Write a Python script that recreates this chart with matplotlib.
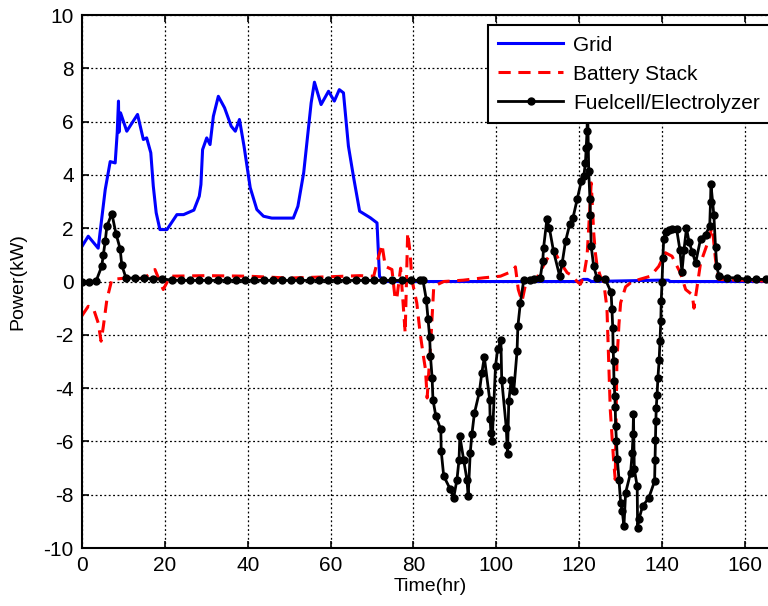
import matplotlib
matplotlib.use('Agg')
from matplotlib import pyplot as plt

plt.rcParams['font.family'] = ['Liberation Sans', 'DejaVu Sans']
plt.rcParams['axes.unicode_minus'] = False

# grid power draw (kW) vs time (hr)
grid_t = [0, 1.5, 3.9, 5.6, 6.8, 8.0, 8.5, 8.8, 8.9, 9.3, 10.8, 13.4, 14.8, 15.6, 16.6, 17.2,
          17.9, 18.8, 20.5, 22.9, 24.5, 27.0, 28.3, 28.7, 29.1, 30.1, 30.9, 31.7, 32.9, 34.4,
          36.0, 37.0, 38.0, 39.1, 40.6, 42.2, 43.8, 45.8, 51.0, 52.1, 53.5, 55.3, 56.1, 57.7,
          59.5, 60.9, 62.1, 63.1, 64.3, 65.5, 67.0, 69.6, 71.2, 71.8, 72.8, 120.0, 121.0,
          122.0, 123.0, 139.0, 141.5, 142.0, 168.0]
grid_p = [1.32, 1.7, 1.25, 3.45, 4.5, 4.45, 5.6, 6.77, 5.6, 6.33, 5.64, 6.27, 5.33, 5.39, 4.83, 3.58,
          2.58, 1.95, 1.95, 2.51, 2.51, 2.68, 3.2, 3.64, 4.95, 5.39, 5.14, 6.2, 6.95, 6.52,
          5.83, 5.64, 6.08, 5.08, 3.52, 2.7, 2.45, 2.38, 2.38, 2.82, 4.08, 6.7, 7.48, 6.64,
          7.14, 6.77, 7.2, 7.08, 5.08, 3.95, 2.64, 2.39, 2.2, 0.2, 0.0, 0.0, 0.08,
          0.08, 0.0, 0.05, 0.05, 0.0, 0.0]

# battery stack power
bat_t = [0, 1.5, 2.7, 3.9, 4.6, 5.15, 6.0, 7.2, 10.0, 15.0, 17.6, 19.6, 21.3, 30.0, 40.0, 50.0,
         60.0, 67.0, 70.4, 71.6, 72.4, 73.2, 74.8, 75.6, 76.0, 76.9, 77.6, 78.0, 78.6, 79.2,
         79.6, 80.8, 81.6, 82.4, 82.9, 83.3, 84.2, 84.9, 87.3, 92.0, 97.0, 101.0, 103.0,
         104.2, 104.6, 105.3, 106.2, 107.2, 109.8, 112.2, 113.8, 115.5, 117.1, 117.9, 119.5,
         120.3, 121.1, 121.9, 122.6, 122.9, 123.5, 123.9, 124.3, 125.1, 125.9, 126.7, 127.1,
         127.5, 128.3, 128.7, 129.1, 129.6, 130.0, 131.2, 132.8, 137.2, 139.2, 140.8, 142.4,
         144.4, 145.7, 147.3, 147.7, 149.3, 151.3, 152.1, 152.9, 153.7, 168.0]
bat_p = [-1.28, -0.93, -0.99, -1.55, -2.24, -1.68, -0.68, 0.08, 0.12, 0.12, 0.45, -0.3, 0.2, 0.22, 0.2, 0.13,
         0.18, 0.22, 0.2, 0.95, 1.39, 0.57, 0.45, -0.68, -0.6, 0.5, -1.05, -1.93, 1.83, 1.08,
         0.08, -0.8, -1.93, -2.8, -3.3, -4.37, -2.18, -0.18, 0.0, 0.05, 0.14, 0.2, 0.33,
         0.45, 0.55, -0.3, -0.74, 0.0, 0.14, 0.83, 1.2, 0.7, 0.33, 0.26, 0.0,
         -0.1, 0.2, 0.95, 2.82, 3.7, 1.83, 1.08, 0.6, 0.2, 0.0, -1.0, -2.9,
         -4.8, -6.7, -7.43, -3.0, -1.6, -0.8, -0.2, 0.0, 0.2, 0.57, 1.08, 0.95,
         0.33, -0.3, -0.5, -1.0, 0.7, 1.58, 2.08, 0.83, 0.08, 0.0]

# fuel cell / electrolyzer power
fc_t = [0, 1.7, 3.4, 4.75, 5.15, 5.6, 6.0, 7.2, 8.2, 9.2, 9.6, 10.6, 12.8, 15.0, 17.2, 19.4,
        21.7, 23.9, 26.1, 28.3, 30.5, 32.8, 35.0, 37.2, 39.4, 41.6, 43.9, 46.1, 48.3, 50.5,
        52.7, 55.0, 57.2, 59.4, 61.6, 63.8, 66.1, 68.3, 70.5, 72.7, 74.9, 77.2, 79.4, 81.6,
        82.3, 83.1, 83.5, 83.9, 84.1, 84.5, 84.7, 85.4, 86.6, 86.7, 87.3, 88.9, 89.7, 90.5,
        91.0, 91.2, 92.1, 92.9, 93.2, 93.7, 94.1, 94.7, 95.9, 96.5, 97.1, 98.4, 98.5, 98.7,
        99.0, 99.8, 100.3, 101.1, 101.3, 102.4, 102.6, 102.7, 103.0, 103.6, 104.2, 105.0,
        105.2, 105.8, 106.6, 108.2, 109.0, 110.6, 111.2, 111.4, 112.2, 112.8, 113.8, 115.3,
        115.9, 116.7, 117.7, 118.5, 119.5, 120.5, 121.1, 121.5, 121.7, 121.9, 122.0, 122.2,
        122.3, 122.6, 122.7, 122.9, 123.5, 124.3, 126.3, 127.7, 127.9, 128.1, 128.2, 128.3,
        128.4, 128.6, 128.7, 128.8, 129.0, 129.2, 129.6, 130.0, 130.4, 130.8, 131.2, 132.4,
        132.8, 133.0, 133.1, 133.3, 134.0, 134.1, 134.4, 135.3, 136.8, 138.2, 138.3, 138.4,
        138.5, 138.6, 138.8, 139.0, 139.3, 139.5, 139.7, 139.8, 140.0, 140.2, 140.4, 140.9,
        141.6, 142.5, 143.5, 144.3, 144.8, 145.3, 145.9, 146.5, 147.3, 148.1, 149.3, 150.5,
        151.5, 151.7, 151.8, 152.5, 152.9, 153.2, 153.7, 155.7, 158.1, 160.5, 162.6, 165.0,
        167.4]
fc_p = [0.0, 0.0, 0.02, 0.57, 1.01, 1.51, 2.07, 2.55, 1.79, 1.23, 0.61, 0.14, 0.12, 0.12, 0.1, 0.1,
        0.05, 0.04, 0.04, 0.04, 0.04, 0.04, 0.04, 0.04, 0.04, 0.04, 0.04, 0.04, 0.04, 0.04,
        0.04, 0.04, 0.04, 0.04, 0.04, 0.04, 0.04, 0.04, 0.04, 0.04, 0.04, 0.04, 0.04, 0.04,
        0.04, -0.68, -1.4, -2.08, -2.8, -3.61, -4.43, -5.05, -5.55, -6.37, -7.3, -7.8, -8.12, -7.43,
        -6.68, -5.8, -6.68, -7.43, -8.05, -6.43, -5.74, -4.95, -4.15, -3.43, -2.84, -4.43, -5.15, -5.68,
        -5.99, -3.18, -2.55, -2.21, -3.68, -5.49, -6.12, -6.49, -4.49, -3.68, -4.12, -2.61,
        -1.68, -0.8, 0.04, 0.04, 0.08, 0.14, 0.76, 1.26, 2.33, 2.01, 1.14, 0.2,
        0.7, 1.51, 2.14, 2.39, 3.08, 3.76, 3.95, 4.45, 5.02, 5.64, 6.8, 5.08,
        4.14, 3.08, 2.51, 1.32, 0.57, 0.14, 0.08, -0.4, -1.02, -1.74, -2.53, -2.99,
        -3.74, -4.28, -4.7, -5.43, -5.99, -6.65, -7.43, -8.3, -8.62, -9.18, -7.93, -7.18,
        -6.43, -5.74, -4.99, -7.05, -7.68, -9.24, -8.93, -8.43, -8.12, -7.49, -6.68, -5.93,
        -5.24, -4.74, -4.24, -3.61, -2.95, -2.24, -1.49, -0.74, 0.0, 0.9, 1.6, 1.85,
        1.95, 1.98, 1.98, 1.2, 0.35, 1.2, 2.0, 1.5, 1.1, 0.7, 1.6, 1.76,
        2.08, 3.0, 3.65, 2.5, 1.3, 0.6, 0.2, 0.14, 0.14, 0.08, 0.08, 0.08,
        0.08]

fig = plt.figure(figsize=(7.68, 6.06), dpi=100)
ax = fig.add_axes([0.1068, 0.0957, 0.9063, 0.8795])

ax.plot(grid_t, grid_p, color='#0000ff', lw=2.2, label='Grid')
ax.plot(bat_t, bat_p, color='#ff0000', lw=2.2, linestyle=(0, (4, 2.5)), label='Battery Stack')
ax.plot(fc_t, fc_p, color='k', lw=2.0, marker='o', markersize=5, label='Fuelcell/Electrolyzer')

ax.set_xlim(0, 168)
ax.set_ylim(-10, 10)
ax.set_xticks([0, 20, 40, 60, 80, 100, 120, 140, 160])
ax.set_yticks([-10, -8, -6, -4, -2, 0, 2, 4, 6, 8, 10])
ax.grid(True, color='k', linestyle=(0, (1.5, 2)), linewidth=0.9)
ax.tick_params(direction='in', top=True, right=True, labelsize=15, length=5, width=1.2, pad=6)
for s in ax.spines.values():
    s.set_linewidth(1.5)

ax.set_xlabel('Time(hr)', fontsize=14, labelpad=2)
ax.set_ylabel('Power(kW)', fontsize=14, labelpad=12)

leg = ax.legend(loc='upper left', bbox_to_anchor=(0.583, 0.981), borderaxespad=0,
                fontsize=15, fancybox=False, framealpha=1, edgecolor='k',
                handlelength=3.1, handletextpad=0.5, borderpad=0.5, labelspacing=0.48)
leg.get_frame().set_linewidth(1.5)
leg.set_zorder(5)

fig.savefig('out.png', dpi=100)
